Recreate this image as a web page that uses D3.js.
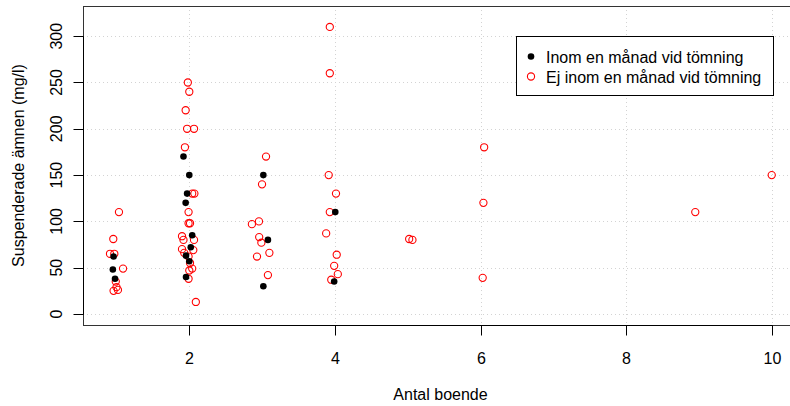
<!DOCTYPE html>
<html><head><meta charset="utf-8">
<script src="https://cdn.jsdelivr.net/npm/d3@7"></script>
<style>body{margin:0;background:#fff}svg{display:block}text{font-family:"Liberation Sans",Arial,Helvetica,sans-serif;}</style>
</head><body>
<svg id="c" width="790" height="406"></svg>
<script>
// Data (x = antal boende, jittered as in the picture; y = suspenderade ämnen mg/l)
const inomX = [0.96, 0.95, 0.98, 1.92, 2.0, 1.97, 1.95, 2.04, 2.02, 1.955, 2.0, 1.955, 3.017, 3.08, 3.017, 4.005, 3.99];
const inomY = [62, 48, 38, 170, 150, 130, 120, 85, 72, 63, 57, 40, 150, 80, 30, 110, 35];
const ejX = [1.034, 0.956, 0.911, 0.97, 1.09, 0.99, 1.0, 0.96, 1.02,
  1.98, 2.0, 1.95, 1.97, 2.065, 1.94, 2.04, 2.07, 1.99, 1.99, 2.01, 1.90, 1.92, 2.065, 1.90, 2.055, 1.93, 1.99, 2.01, 2.04, 2.0, 1.99, 2.09,
  3.054, 2.999, 2.957, 2.86, 2.96, 2.99, 3.10, 2.93, 3.08,
  3.93, 3.93, 3.915, 4.015, 3.93, 3.88, 4.025, 3.99, 4.04, 3.95,
  5.02, 5.065, 6.05, 6.04, 6.03, 8.95, 10.0];
const ejY = [110, 81, 65, 65, 49, 35, 29, 25, 26,
  250, 240, 220, 200, 200, 180, 130, 130, 110, 98, 98, 84, 80, 80, 70, 69, 66, 62, 55, 49, 47, 38, 13,
  170, 140, 100, 97, 83, 77, 66, 62, 42,
  310, 260, 150, 130, 110, 87, 64, 52, 43, 37,
  81, 80, 180, 120, 39, 110, 150];
const xTicks = [2, 4, 6, 8, 10];
const yTicks = [0, 50, 100, 150, 200, 250, 300];
const legendLabels = ["Inom en månad vid tömning", "Ej inom en månad vid tömning"];
const xTitle = "Antal boende";
const yTitle = "Suspenderade ämnen (mg/l)";

const svg = d3.select("#c");
const L = 83, R = 798, T = 6, B = 325;
const x = d3.scaleLinear().domain([0.54, 10.361]).range([L, R]);
const y = d3.scaleLinear().domain([-11.9, 332.6]).range([B, T]);

// grid
const grid = svg.append("g").attr("stroke", "#d3d3d3").attr("stroke-width", 1).attr("stroke-dasharray", "1,3");
grid.selectAll(".gy").data(yTicks).join("line")
  .attr("x1", L).attr("x2", R).attr("y1", d => Math.round(y(d)) + 0.5).attr("y2", d => Math.round(y(d)) + 0.5);
grid.selectAll(".gx").data(xTicks).join("line")
  .attr("y1", T).attr("y2", B).attr("x1", d => Math.round(x(d)) + 0.5).attr("x2", d => Math.round(x(d)) + 0.5);

// box
svg.append("rect").attr("x", L + 0.5).attr("y", T + 0.5).attr("width", R - L).attr("height", B - T)
  .attr("fill", "none").attr("stroke", "#333").attr("stroke-width", 1);

// axes
const xAxis = d3.axisBottom(x).tickValues(xTicks).tickSize(10).tickPadding(18).tickFormat(d3.format("d"));
const gx = svg.append("g").attr("transform", `translate(0,${B + 0.5})`).call(xAxis);
gx.select(".domain").attr("d", `M${Math.round(x(2)) + 0.5},0H${Math.round(x(10)) + 0.5}`).attr("stroke", "#000");
gx.selectAll(".tick line").attr("stroke", "#000").attr("transform", function(){return "";});
gx.selectAll(".tick text").attr("font-size", 16).attr("fill", "#000").attr("dy", null).attr("y", 38);
gx.selectAll(".tick").attr("transform", d => `translate(${Math.round(x(d)) + 0.5},0)`);

const gy = svg.append("g").attr("transform", `translate(${L + 0.5},0)`);
gy.append("line").attr("x1", 0).attr("x2", 0).attr("y1", Math.round(y(0)) + 0.5).attr("y2", Math.round(y(300)) + 0.5).attr("stroke", "#000");
gy.selectAll(".yt").data(yTicks).join("line").attr("x1", -10).attr("x2", 0)
  .attr("y1", d => Math.round(y(d)) + 0.5).attr("y2", d => Math.round(y(d)) + 0.5).attr("stroke", "#000");
gy.selectAll(".yl").data(yTicks).join("text")
  .attr("transform", d => `translate(${61 - L},${y(d)}) rotate(-90)`)
  .attr("text-anchor", "middle").attr("font-size", 16).attr("fill", "#000").text(d => d);

// titles
svg.append("text").attr("x", (L + R) / 2).attr("y", 400).attr("text-anchor", "middle").attr("font-size", 16).text(xTitle);
svg.append("text").attr("transform", `translate(24,${(T + B) / 2}) rotate(-90)`).attr("text-anchor", "middle").attr("font-size", 16).text(yTitle);

// points: red open first, then black filled
svg.append("g").selectAll("circle").data(ejX.map((v, i) => [v, ejY[i]])).join("circle")
  .attr("cx", d => x(d[0])).attr("cy", d => y(d[1])).attr("r", 3.6)
  .attr("fill", "none").attr("stroke", "#ff0000").attr("stroke-width", 1.1);
svg.append("g").selectAll("circle").data(inomX.map((v, i) => [v, inomY[i]])).join("circle")
  .attr("cx", d => x(d[0])).attr("cy", d => y(d[1])).attr("r", 3.3).attr("fill", "#000");

// legend
const lg = svg.append("g");
lg.append("rect").attr("x", 516.5).attr("y", 36.5).attr("width", 257).attr("height", 59)
  .attr("fill", "#fff").attr("stroke", "#000").attr("stroke-width", 1);
lg.append("circle").attr("cx", 531).attr("cy", 56.5).attr("r", 3.3).attr("fill", "#000");
lg.append("circle").attr("cx", 531).attr("cy", 76.5).attr("r", 3.6).attr("fill", "none").attr("stroke", "#ff0000").attr("stroke-width", 1.1);
lg.selectAll("text").data(legendLabels).join("text")
  .attr("x", 546).attr("y", (d, i) => 62.5 + i * 20).attr("font-size", 16).attr("fill", "#000").text(d => d);
</script>
</body></html>
